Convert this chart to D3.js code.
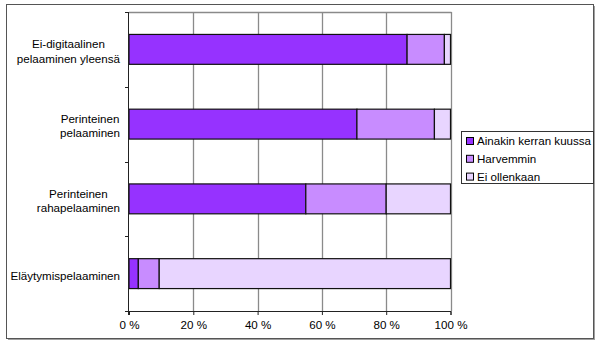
<!DOCTYPE html>
<html><head><meta charset="utf-8">
<script src="https://cdn.jsdelivr.net/npm/d3@7"></script>
<style>body{margin:0;background:#fff}svg{display:block;font-family:"Liberation Sans",Arial,sans-serif}</style>
</head><body><svg id="c" width="600" height="344"></svg>
<script>
const categories = [["Ei-digitaalinen","pelaaminen yleensä"],["Perinteinen","pelaaminen"],["Perinteinen","rahapelaaminen"],["Eläytymispelaaminen"]];
const seriesNames = ["Ainakin kerran kuussa","Harvemmin","Ei ollenkaan"];
const monthly = [86.5, 70.9, 55.0, 2.9];
const rarely = [11.6, 24.1, 25.0, 6.5];
const never = [1.9, 5.0, 20.0, 90.6];
const xTicks = [0,20,40,60,80,100];
const colors = ["#9632FF","#C88CFF","#E8D5FF"];
const FS = 11.6;

const svg = d3.select("#c");
// outer frame with shadow
svg.append("rect").attr("x",8).attr("y",6).attr("width",587).attr("height",334).attr("fill","#a0a0a0");
svg.append("rect").attr("x",6.5).attr("y",4.5).attr("width",587).attr("height",334).attr("fill","#fff").attr("stroke","#555").attr("stroke-width",1);

const L=129, R=450.5, T=12, B=311;
const x = d3.scaleLinear().domain([0,100]).range([L,R]);
const y = d3.scaleBand().domain(d3.range(categories.length)).range([T,B]).paddingInner(0.6).paddingOuter(0.3);

// grid lines
svg.append("g").selectAll("line").data(xTicks.slice(1)).join("line")
  .attr("x1",d=>Math.round(x(d))+0.5).attr("x2",d=>Math.round(x(d))+0.5).attr("y1",T).attr("y2",B)
  .attr("stroke","#8a8a8a").attr("stroke-width",1.3);
svg.append("line").attr("x1",L).attr("x2",Math.round(R)+0.5).attr("y1",T+0.5).attr("y2",T+0.5).attr("stroke","#8a8a8a").attr("stroke-width",1.3);

const data = categories.map((c,i)=>({i, vals:[monthly[i],rarely[i],never[i]]}));
const stack = d3.stack().keys([0,1,2]).value((d,k)=>d.vals[k]);
const stacked = stack(data);
svg.append("g").selectAll("g").data(stacked).join("g").attr("fill",(d,k)=>colors[k])
  .selectAll("rect").data(d=>d).join("rect")
  .attr("x",d=>x(d[0])).attr("width",d=>x(d[1])-x(d[0]))
  .attr("y",d=>y(d.data.i)).attr("height",y.bandwidth())
  .attr("stroke","#111").attr("stroke-width",1.2);

// axes
const xAxis = d3.axisBottom(x).tickValues(xTicks).tickFormat(d=>d+" %").tickSize(4).tickPadding(6);
const gx = svg.append("g").attr("transform",`translate(0,${B})`).call(xAxis);
gx.select(".domain").attr("stroke","#222");
gx.selectAll("line").attr("stroke","#222");
gx.selectAll("text").attr("font-size",FS).attr("fill","#000").attr("font-family","Liberation Sans, Arial, sans-serif");

const yTickPos = d3.range(categories.length+1).map(i=>T+i*(B-T)/categories.length);
svg.append("line").attr("x1",L-0.5).attr("x2",L-0.5).attr("y1",T).attr("y2",B+4).attr("stroke","#222");
svg.append("g").selectAll("line").data(yTickPos).join("line")
  .attr("x1",L-4).attr("x2",L).attr("y1",d=>Math.round(d)+0.5).attr("y2",d=>Math.round(d)+0.5).attr("stroke","#222");

// category labels
const lab = svg.append("g").attr("font-size",FS).attr("fill","#000");
categories.forEach((lines,i)=>{
  const cy = y(i)+y.bandwidth()/2+2;
  const g = lab.append("g");
  const lh = 14.5;
  const ts = lines.map((t,j)=>g.append("text").attr("y",cy+(j-(lines.length-1)/2)*lh).attr("dy","0.35em").text(t));
  const maxW = d3.max(ts,t=>t.node().getComputedTextLength());
  const cx = 120 - maxW/2;
  ts.forEach(t=>t.attr("x",cx).attr("text-anchor","middle"));
});

// legend
const lg = svg.append("g");
lg.append("rect").attr("x",461.5).attr("y",131.5).attr("width",132).attr("height",52).attr("fill","#fff").attr("stroke","#333");
seriesNames.forEach((n,k)=>{
  const yy = 141 + k*17.8;
  lg.append("rect").attr("x",466.5).attr("y",yy-3.5).attr("width",7).attr("height",7).attr("fill",colors[k]).attr("stroke","#000");
  lg.append("text").attr("x",477).attr("y",yy).attr("dy","0.35em").attr("font-size",FS).text(n);
});
</script></body></html>
